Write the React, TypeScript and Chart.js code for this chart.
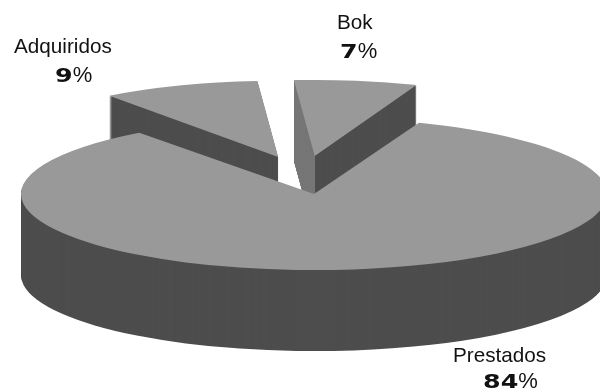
import React, { useEffect, useRef } from "react";
import { Chart, registerables } from "chart.js";

Chart.register(...registerables);

// Data
const categories = ["Prestados", "Adquiridos", "Bok"];
const shares = [84, 9, 7];

// Styling of the 3D pie
const TOP_COLOR = "#999999";
const WALL_COLOR = "#4d4d4d";
const INNER_WALL_COLOR = "#777777";
const explode = [73.5, 74, 73.5];
const sliceWidthScale = [1, 0.967, 0.97];
const radius = 293;
const squash = 0.26;
const depth = 81;
const drawOrder = [2, 1, 0];
const innerWallSlice = 2;
const labelLayout = [
  { nameX: 453, nameY: 362, pctX: 483, pctY: 388 },
  { nameX: 14, nameY: 53, pctX: 55, pctY: 82 },
  { nameX: 337, nameY: 29, pctX: 340, pctY: 58 },
];

const pie3d = {
  id: "pie3d",
  beforeDatasetsDraw(chart: any) {
    const ctx: CanvasRenderingContext2D = chart.ctx;
    const arcs = chart.getDatasetMeta(0).data;
    const paint = (i: number, d: number, color: string) => {
      const arc = arcs[i];
      const orig = arc.options;
      const mid = (arc.startAngle + arc.endAngle) / 2;
      const apexX = arc.x + Math.cos(mid) * explode[i];
      ctx.save();
      ctx.translate(apexX, 0);
      ctx.scale(sliceWidthScale[i], 1);
      ctx.translate(-apexX, 0);
      ctx.translate(arc.x, arc.y + d);
      ctx.scale(1, squash);
      ctx.translate(-arc.x, -arc.y);
      ctx.translate(Math.cos(mid) * explode[i], Math.sin(mid) * explode[i]);
      arc.options = { ...orig, backgroundColor: color };
      arc.draw(ctx);
      arc.options = orig;
      ctx.restore();
    };
    for (const i of drawOrder) {
      for (let d = depth; d > 0; d--) paint(i, d, WALL_COLOR);
      if (i === innerWallSlice) {
        const arc = arcs[i];
        const mid = (arc.startAngle + arc.endAngle) / 2;
        const apexX = arc.x + Math.cos(mid) * explode[i];
        ctx.save();
        ctx.beginPath();
        ctx.rect(0, 0, apexX, chart.height);
        ctx.clip();
        for (let d = depth; d > 0; d--) paint(i, d, INNER_WALL_COLOR);
        ctx.restore();
      }
      paint(i, 0, TOP_COLOR);
    }
    return false;
  },
  afterDraw(chart: any) {
    const ctx: CanvasRenderingContext2D = chart.ctx;
    ctx.save();
    ctx.fillStyle = "#111111";
    ctx.textBaseline = "alphabetic";
    ctx.textAlign = "left";
    categories.forEach((name, i) => {
      const p = labelLayout[i];
      ctx.font = '20.7px "Liberation Sans"';
      ctx.fillText(name, p.nameX, p.nameY);
      const digits = String(shares[i]);
      ctx.save();
      ctx.translate(p.pctX, p.pctY);
      ctx.scale(1.3, 1);
      ctx.font = 'bold 19.5px "DejaVu Sans"';
      ctx.fillText(digits, 0, 0);
      const w = ctx.measureText(digits).width * 1.3;
      ctx.restore();
      ctx.font = '22px "Liberation Sans"';
      ctx.fillText("%", p.pctX + w, p.pctY);
    });
    ctx.restore();
  },
};

export default function App() {
  const ref = useRef<HTMLCanvasElement>(null);
  useEffect(() => {
    document.body.style.margin = "0";
    const chart = new Chart(ref.current as HTMLCanvasElement, {
      type: "pie",
      data: {
        labels: categories,
        datasets: [
          {
            data: shares,
            backgroundColor: TOP_COLOR,
            borderWidth: 0,
            radius,
          } as any,
        ],
      },
      options: {
        responsive: false,
        animation: false,
        rotation: 21,
        layout: { padding: { left: 8, bottom: 41 } },
        plugins: { legend: { display: false }, tooltip: { enabled: false } },
      },
      plugins: [pie3d as any],
    });
    return () => chart.destroy();
  }, []);
  return <canvas ref={ref} width={600} height={391} style={{ display: "block" }} />;
}
